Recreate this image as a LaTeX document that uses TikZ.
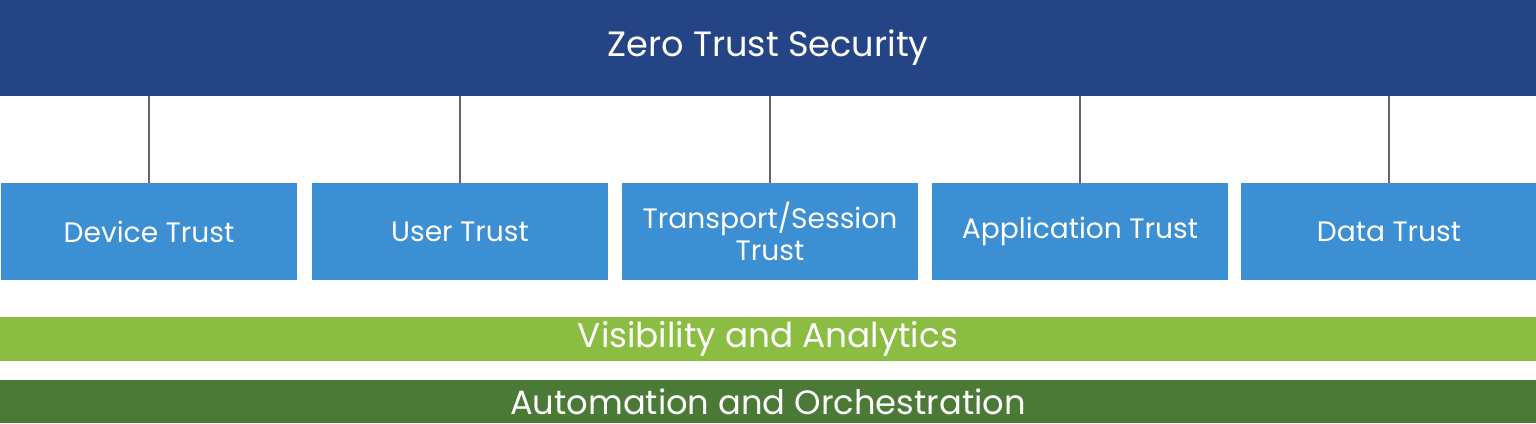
\documentclass[tikz,border=0pt]{standalone}
\usepackage{fontspec}
\setmainfont{Poppins}
\definecolor{topblue}{HTML}{244486}
\definecolor{trustblue}{HTML}{3D8FD4}
\definecolor{visgreen}{HTML}{8BBD43}
\definecolor{autogreen}{HTML}{4A7A36}
\begin{document}
\begin{tikzpicture}[every node/.style={text=white,inner sep=0pt,outer sep=0pt,align=center},
  bar/.style={fill=#1,minimum width=15.36cm},
  trust/.style={fill=trustblue,minimum width=2.96cm,minimum height=0.97cm,font=\fontsize{8}{9.2}\selectfont}]
\useasboundingbox (0,0) rectangle (15.36,4.23);
% top
\node[bar=topblue,minimum height=0.96cm,font=\fontsize{10}{12}\selectfont] (zts) at (7.68,3.75) {Zero Trust Security};
% pillars
\node[trust] (dev) at (1.49,1.915) {Device Trust};
\node[trust] (usr) at (4.60,1.915) {User Trust};
\node[trust] (trn) at (7.70,1.915) {Transport/Session\\Trust};
\node[trust] (app) at (10.80,1.915) {Application Trust};
\node[trust] (dat) at (13.89,1.915) {Data Trust};
\draw[gray!80!black,line width=0.8pt] (dev.north) -- (dev.north |- zts.south);
\draw[gray!80!black,line width=0.8pt] (usr.north) -- (usr.north |- zts.south);
\draw[gray!80!black,line width=0.8pt] (trn.north) -- (trn.north |- zts.south);
\draw[gray!80!black,line width=0.8pt] (app.north) -- (app.north |- zts.south);
\draw[gray!80!black,line width=0.8pt] (dat.north) -- (dat.north |- zts.south);
% bottom layers
\node[bar=visgreen,minimum height=0.44cm,font=\fontsize{9.75}{12}\selectfont] (vis) at (7.68,0.84) {Visibility and Analytics};
\node[bar=autogreen,minimum height=0.43cm,font=\fontsize{9.6}{12}\selectfont] (aut) at (7.68,0.215) {Automation and Orchestration};
\end{tikzpicture}
\end{document}
